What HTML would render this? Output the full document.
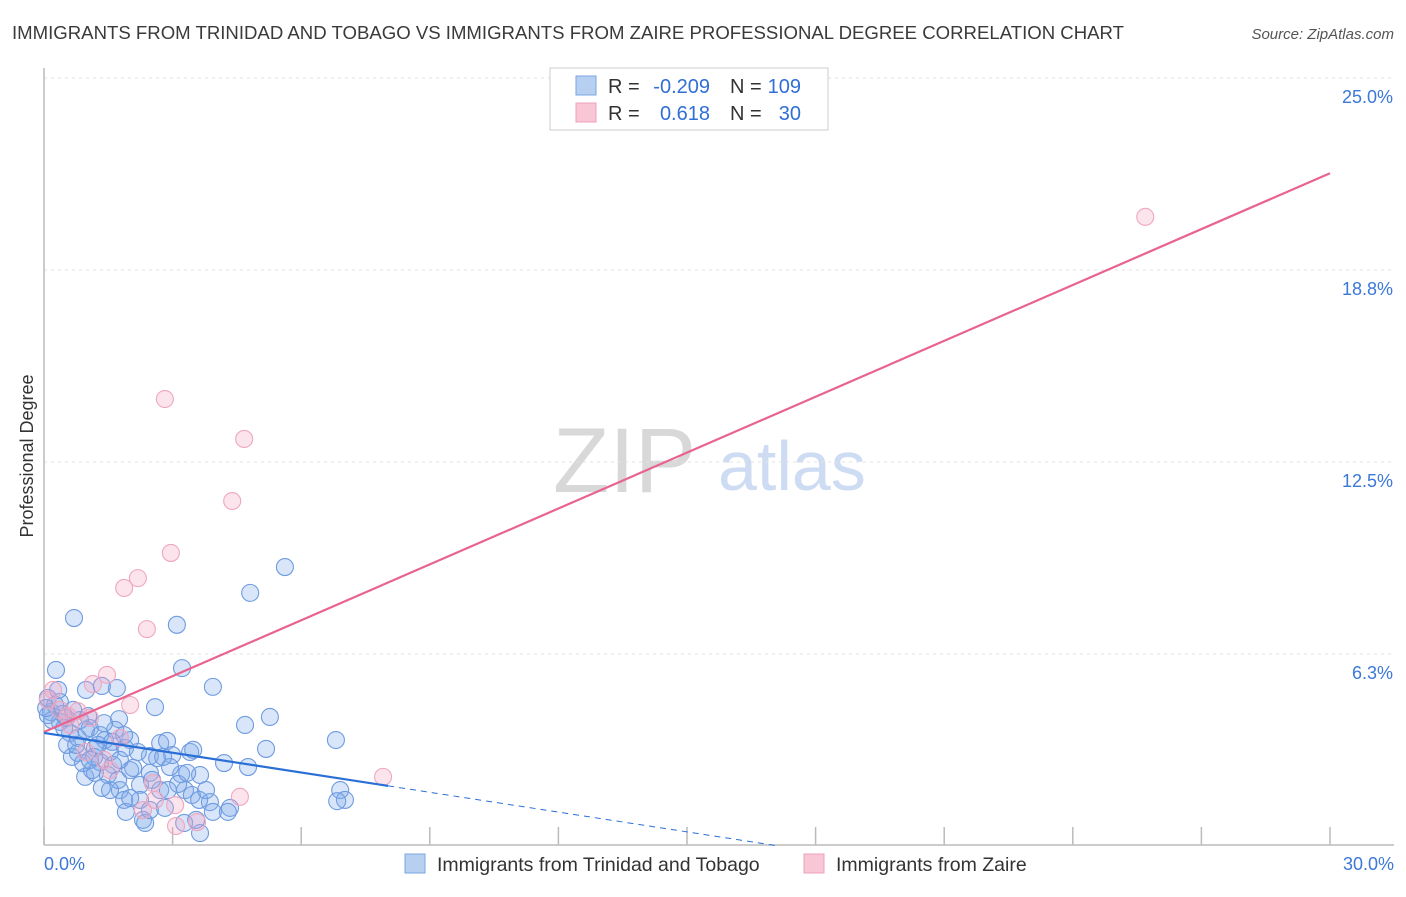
<!DOCTYPE html>
<html><head><meta charset="utf-8"><style>
body{margin:0;background:#fff;font-family:"Liberation Sans",sans-serif;}
svg text{font-family:"Liberation Sans",sans-serif;}
</style></head><body>
<svg id="chart" width="1406" height="892" xmlns="http://www.w3.org/2000/svg">
<text x="12" y="39" font-size="18.5" fill="#3a3a3a" textLength="1112" lengthAdjust="spacingAndGlyphs">IMMIGRANTS FROM TRINIDAD AND TOBAGO VS IMMIGRANTS FROM ZAIRE PROFESSIONAL DEGREE CORRELATION CHART</text>
<text x="1394" y="39" font-size="15" fill="#555" font-style="italic" text-anchor="end">Source: ZipAtlas.com</text>
<text transform="translate(33,456) rotate(-90)" font-size="18" fill="#333" text-anchor="middle">Professional Degree</text>
<g>
<text x="553" y="492" font-size="92" font-family="Liberation Serif,serif" fill="#d8d8d8">ZIP</text>
<text x="718" y="490" font-size="70" fill="#cddcf2">atlas</text>
</g>
<g id="grid"></g><g id="axes"></g><g id="marks"></g><g id="lines"></g>
<g>
<rect x="550" y="68" width="278" height="62" fill="#fff" stroke="#ccc"/>
<rect x="576" y="76" width="20" height="19" fill="#b7d0f2" stroke="#7aa6e2"/>
<rect x="576" y="103" width="20" height="19" fill="#f9c6d6" stroke="#eda0b9"/>
<text x="608" y="93" font-size="20" fill="#333">R =</text>
<text x="710" y="93" font-size="20" fill="#2f6fd6" text-anchor="end">-0.209</text>
<text x="730" y="93" font-size="20" fill="#333">N =</text>
<text x="801" y="93" font-size="20" fill="#2f6fd6" text-anchor="end">109</text>
<text x="608" y="120" font-size="20" fill="#333">R =</text>
<text x="710" y="120" font-size="20" fill="#2f6fd6" text-anchor="end">0.618</text>
<text x="730" y="120" font-size="20" fill="#333">N =</text>
<text x="801" y="120" font-size="20" fill="#2f6fd6" text-anchor="end">30</text>
</g>
<g>
<rect x="405" y="854" width="20" height="19" fill="#b7d0f2" stroke="#7aa6e2"/>
<text x="437" y="871" font-size="19.5" fill="#333">Immigrants from Trinidad and Tobago</text>
<rect x="804" y="854" width="20" height="19" fill="#f9c6d6" stroke="#eda0b9"/>
<text x="836" y="871" font-size="19.5" fill="#333">Immigrants from Zaire</text>
</g>
</svg>
<script>
const blueX=[0.70,5.62,4.81,3.10,3.22,0.28,3.94,1.70,0.98,1.35,0.09,0.37,2.59,0.16,0.44,1.03,1.75,4.69,5.27,6.81,5.18,0.37,0.61,1.07,1.31,1.66,2.01,2.71,2.87,3.41,3.48,4.20,4.76,0.54,0.79,1.19,1.54,1.89,2.47,2.64,2.99,3.20,3.64,3.29,3.45,3.87,4.34,3.94,3.62,6.91,7.02,6.84,2.47,2.01,1.77,1.87,1.54,0.96,1.19,1.31,2.24,2.71,2.82,2.31,1.91,2.36,3.27,3.64,4.29,3.55,0.26,0.09,0.19,0.51,0.84,1.42,0.65,0.91,1.12,1.61,2.08,2.52,1.49,0.79,1.26,1.77,2.19,2.94,3.13,2.78,2.24,0.33,0.68,0.05,0.47,0.75,0.98,1.40,1.87,1.59,1.17,2.47,2.89,2.01,3.34,3.78,1.73,1.35,1.07];
const blueY=[7.42,9.08,8.24,7.20,5.79,5.73,5.18,5.14,5.08,5.21,4.82,4.69,4.52,4.36,4.30,4.23,4.13,3.94,4.20,3.45,3.16,4.04,3.68,3.84,3.61,3.78,3.45,3.35,3.42,3.06,3.13,2.70,2.57,3.29,3.03,3.19,3.06,3.19,2.93,2.86,2.96,2.34,2.31,1.82,1.66,1.43,1.24,1.11,1.50,1.82,1.50,1.46,2.38,2.47,1.82,1.50,1.82,2.25,2.38,2.73,1.99,1.82,1.24,0.85,1.11,0.75,0.75,0.42,1.11,0.85,4.59,4.26,4.10,4.17,4.10,3.45,2.90,2.70,2.47,2.64,2.54,2.15,2.31,3.52,3.29,2.80,3.06,2.57,2.02,2.90,1.50,5.08,4.43,4.49,3.84,3.29,3.78,4.00,3.61,3.39,2.90,1.17,1.82,1.56,2.38,1.82,2.15,1.89,2.80];
const pinkX=[25.69,2.82,4.67,4.39,2.96,2.19,1.87,2.40,1.47,1.14,0.21,0.79,0.56,2.01,1.07,1.77,1.40,0.37,2.54,2.59,4.57,7.91,3.06,2.31,3.57,3.08,1.54,0.98,0.09,0.61];
const pinkY=[20.48,14.55,13.25,11.23,9.54,8.72,8.40,7.06,5.57,5.27,5.08,4.39,4.23,4.59,4.17,3.52,2.80,4.43,2.05,1.50,1.60,2.25,1.33,1.17,0.78,0.65,2.47,3.06,4.75,3.94];
const yTicks=[6.25,12.5,18.75,25];
const yTickLabels=["6.3%","12.5%","18.8%","25.0%"];
const xTicks=[0,3,6,9,12,15,18,21,24,27,30];
const pinkLine=[3.71,21.9];
const blueLine=[3.68,-2.76];
const blueSolidEnd=8.03;

const NS="http://www.w3.org/2000/svg";
const sx=v=>44+v/30*1286;
const sy=v=>846-v*30.72;
function mk(tag,attrs,parent){const e=document.createElementNS(NS,tag);for(const k in attrs)e.setAttribute(k,attrs[k]);parent.appendChild(e);return e;}
const grid=document.getElementById('grid'),axes=document.getElementById('axes'),marks=document.getElementById('marks'),lines=document.getElementById('lines');
yTicks.forEach((t,i)=>{
  const l=mk('line',{x1:44,x2:1394,y1:sy(t),y2:sy(t),stroke:'#e2e2e2','stroke-dasharray':'3,4'},grid);
  
  
  const tx=mk('text',{x:1393,y:sy(t)+25,'font-size':18,fill:'#3b78d8','text-anchor':'end'},axes);
  tx.textContent=yTickLabels[i];
  
  
});
const ax=mk('line',{x1:44,x2:1394,y1:845,y2:845,stroke:'#bbb','stroke-width':1.5},axes);


const ay=mk('line',{x1:44,x2:44,y1:68,y2:845,stroke:'#bbb','stroke-width':1.5},axes);


xTicks.forEach(t=>{
  const l=mk('line',{x1:sx(t),x2:sx(t),y1:827,y2:845,stroke:'#bbb','stroke-width':1.5},axes);
  
  
});
[[0,"0.0%","start",44],[30,"30.0%","end",1394]].forEach(([v,s,a,x])=>{
  const tx=mk('text',{x:x,y:870,'font-size':18,fill:'#3b78d8','text-anchor':a},axes);
  tx.textContent=s;
  
  
});
blueX.forEach((x,i)=>{
  const c=mk('circle',{cx:sx(x),cy:sy(blueY[i]),r:8.5,fill:'rgba(130,172,235,0.3)',stroke:'#6f9be0','stroke-width':1.1},marks);
  
  
});
pinkX.forEach((x,i)=>{
  const c=mk('circle',{cx:sx(x),cy:sy(pinkY[i]),r:8.5,fill:'rgba(245,165,195,0.3)',stroke:'#efa6bf','stroke-width':1.1},marks);
  
  
});
const pl=mk('line',{x1:sx(0),y1:sy(pinkLine[0]),x2:sx(30),y2:sy(pinkLine[1]),stroke:'#e8638f','stroke-width':2.2},lines);


const bAt=x=>blueLine[0]+(blueLine[1]-blueLine[0])*x/30;
const bl=mk('line',{x1:sx(0),y1:sy(bAt(0)),x2:sx(blueSolidEnd),y2:sy(bAt(blueSolidEnd)),stroke:'#2a6fd6','stroke-width':2.2},lines);


const xEnd=blueLine[0]/(blueLine[0]-blueLine[1])*30;
const bd=mk('line',{x1:sx(blueSolidEnd),y1:sy(bAt(blueSolidEnd)),x2:sx(xEnd),y2:sy(0),stroke:'#2a6fd6','stroke-width':1,'stroke-dasharray':'6,5'},lines);


</script>
</body></html>
